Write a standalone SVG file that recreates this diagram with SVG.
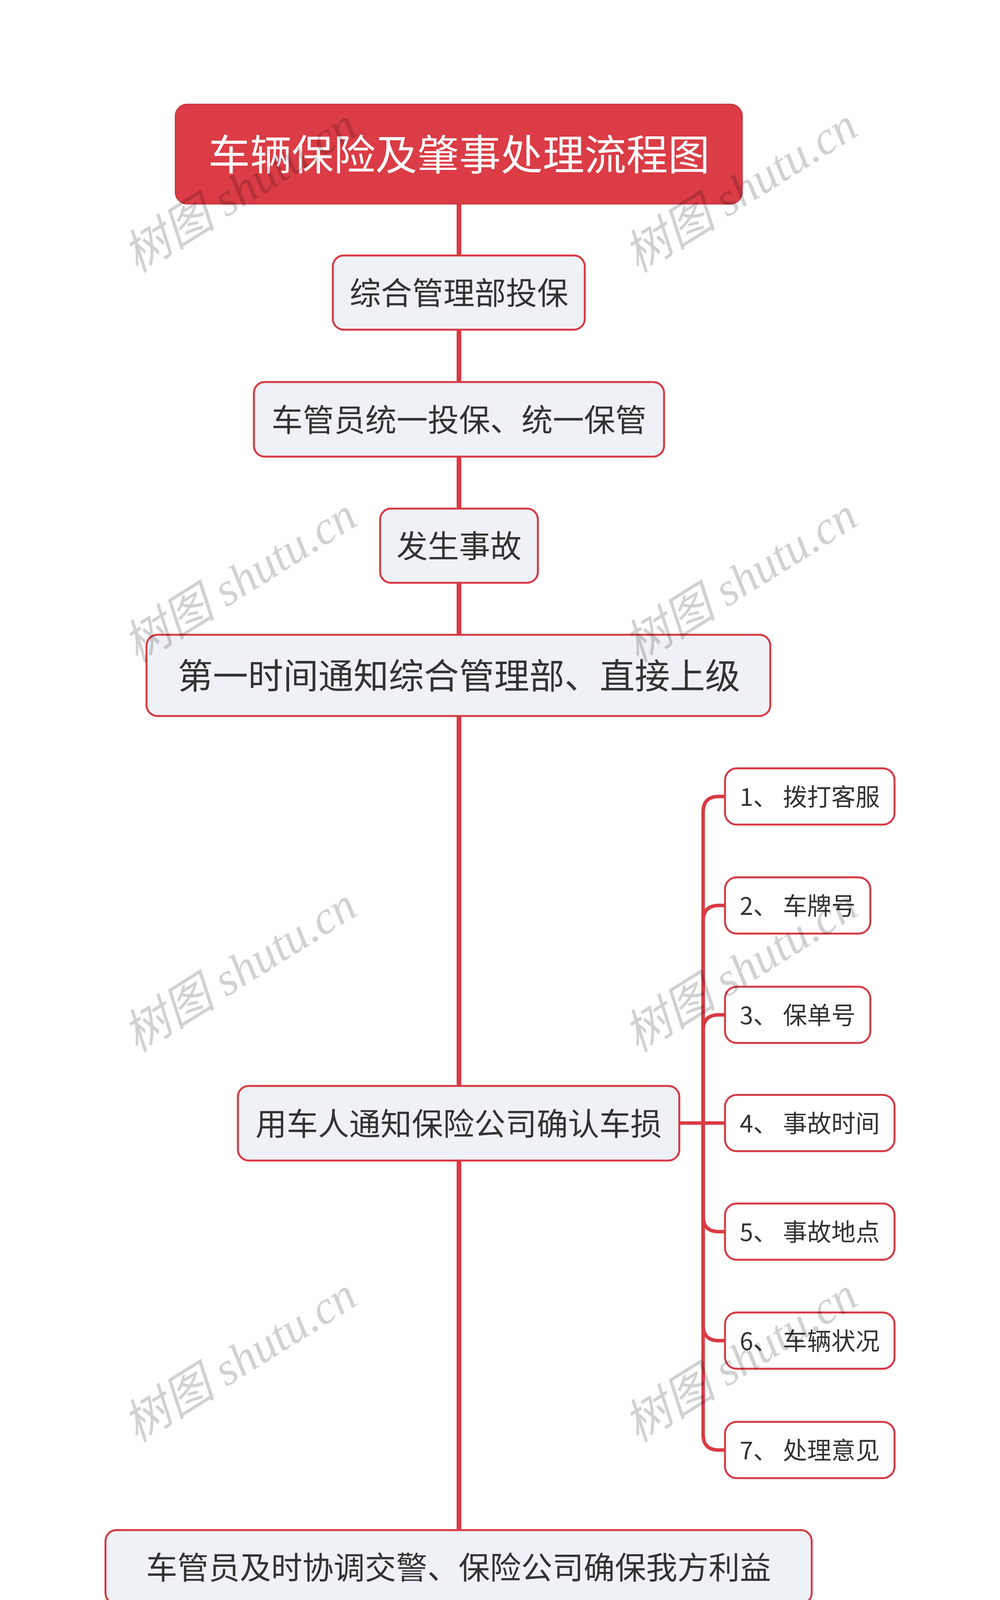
<svg xmlns="http://www.w3.org/2000/svg" width="2560" height="5023" viewBox="0 0 2560 5023">
<style>
.bg{fill:#ffffff}
.title rect{fill:#DB3C45;stroke:#C9343D;stroke-width:3}
.title text{fill:#ffffff;font-family:"Noto Sans CJK SC","Noto Sans",sans-serif;font-size:107px;text-anchor:middle}
.main rect{fill:#EEF1F5;stroke:#D63A44;stroke-width:5}
.main text{fill:#333333;font-family:"Noto Sans CJK SC","Noto Sans",sans-serif;font-size:80px;text-anchor:middle}
.sub rect{fill:#ffffff;stroke:#D63A44;stroke-width:5}
.sub text{fill:#333333;font-family:"Noto Sans CJK SC","Noto Sans",sans-serif;font-size:62px;text-anchor:middle}
.spine{stroke:#D93A44;stroke-width:12;fill:none}
.branch{stroke:#D93A44;stroke-width:9;fill:none;stroke-linecap:round}
.wm{fill:#000000;fill-opacity:0.18;font-family:"Liberation Serif","Noto Sans CJK SC",serif;font-style:italic;font-size:120px}
</style>
<rect class="bg" x="0" y="0" width="2560" height="5023"/>

<g id="connectors">
  <line class="spine" x1="1175" y1="522" x2="1175" y2="4564"/>
  <path class="branch" d="M1739 2875 L1856 2875"/>
  <path class="branch" d="M1800 2875 L1800 2079 Q1800 2039 1840 2039 L1856 2039"/>
  <path class="branch" d="M1800 2875 L1800 2358 Q1800 2318 1840 2318 L1856 2318"/>
  <path class="branch" d="M1800 2875 L1800 2638 Q1800 2598 1840 2598 L1856 2598"/>
  <path class="branch" d="M1800 2875 L1800 3113 Q1800 3153 1840 3153 L1856 3153"/>
  <path class="branch" d="M1800 2875 L1800 3392 Q1800 3432 1840 3432 L1856 3432"/>
  <path class="branch" d="M1800 2875 L1800 3672 Q1800 3712 1840 3712 L1856 3712"/>
</g>

<g id="title" class="title">
  <rect x="449" y="267" width="1451" height="255" rx="30" ry="30"/>
  <text x="1175" y="435">车辆保险及肇事处理流程图</text>
</g>

<g id="n1" class="main">
  <rect x="852" y="654" width="645" height="190" rx="28" ry="28"/>
  <text x="1175" y="779">综合管理部投保</text>
</g>
<g id="n2" class="main">
  <rect x="650" y="978" width="1050" height="191" rx="28" ry="28"/>
  <text x="1175" y="1104">车管员统一投保、统一保管</text>
</g>
<g id="n3" class="main">
  <rect x="973" y="1302" width="404" height="190" rx="28" ry="28"/>
  <text x="1175" y="1427">发生事故</text>
</g>
<g id="n4" class="main">
  <rect x="375" y="1625" width="1597" height="208" rx="28" ry="28"/>
  <text x="1175" y="1763" style="font-size:90px">第一时间通知综合管理部、直接上级</text>
</g>
<g id="n5" class="main">
  <rect x="609" y="2780" width="1130" height="191" rx="28" ry="28"/>
  <text x="1174" y="2906">用车人通知保险公司确认车损</text>
</g>

<g id="c1" class="sub">
  <rect x="1856" y="1967" width="434" height="144" rx="30" ry="30"/>
  <text x="2073" y="2063">1、 拨打客服</text>
</g>
<g id="c2" class="sub">
  <rect x="1856" y="2246" width="372" height="144" rx="30" ry="30"/>
  <text x="2042" y="2342">2、 车牌号</text>
</g>
<g id="c3" class="sub">
  <rect x="1856" y="2526" width="372" height="144" rx="30" ry="30"/>
  <text x="2042" y="2622">3、 保单号</text>
</g>
<g id="c4" class="sub">
  <rect x="1856" y="2803" width="434" height="144" rx="30" ry="30"/>
  <text x="2073" y="2899">4、 事故时间</text>
</g>
<g id="c5" class="sub">
  <rect x="1856" y="3081" width="434" height="144" rx="30" ry="30"/>
  <text x="2073" y="3177">5、 事故地点</text>
</g>
<g id="c6" class="sub">
  <rect x="1856" y="3360" width="434" height="144" rx="30" ry="30"/>
  <text x="2073" y="3456">6、 车辆状况</text>
</g>
<g id="c7" class="sub">
  <rect x="1856" y="3640" width="434" height="144" rx="30" ry="30"/>
  <text x="2073" y="3736">7、 处理意见</text>
</g>

<g id="n6" class="main">
  <rect x="270" y="3917" width="1808" height="189" rx="28" ry="28"/>
  <text x="1174" y="4042">车管员及时协调交警、保险公司确保我方利益</text>
</g>
<g id="n7" class="main">
  <rect x="893" y="4241" width="563" height="189" rx="28" ry="28"/>
  <text x="1174" y="4366">定损费用结算</text>
</g>
<g id="n8" class="main">
  <rect x="812" y="4564" width="723" height="189" rx="28" ry="28"/>
  <text x="1174" y="4689">有关材料备案留存</text>
</g>

<g id="watermarks">
  <text class="wm" transform="translate(350 700) rotate(-32)">树图 shutu.cn</text>
  <text class="wm" transform="translate(1632 700) rotate(-32)">树图 shutu.cn</text>
  <text class="wm" transform="translate(350 1698) rotate(-32)">树图 shutu.cn</text>
  <text class="wm" transform="translate(1632 1698) rotate(-32)">树图 shutu.cn</text>
  <text class="wm" transform="translate(350 2696) rotate(-32)">树图 shutu.cn</text>
  <text class="wm" transform="translate(1632 2696) rotate(-32)">树图 shutu.cn</text>
  <text class="wm" transform="translate(350 3694) rotate(-32)">树图 shutu.cn</text>
  <text class="wm" transform="translate(1632 3694) rotate(-32)">树图 shutu.cn</text>
  <text class="wm" transform="translate(350 4692) rotate(-32)">树图 shutu.cn</text>
  <text class="wm" transform="translate(1632 4692) rotate(-32)">树图 shutu.cn</text>
</g>
</svg>
